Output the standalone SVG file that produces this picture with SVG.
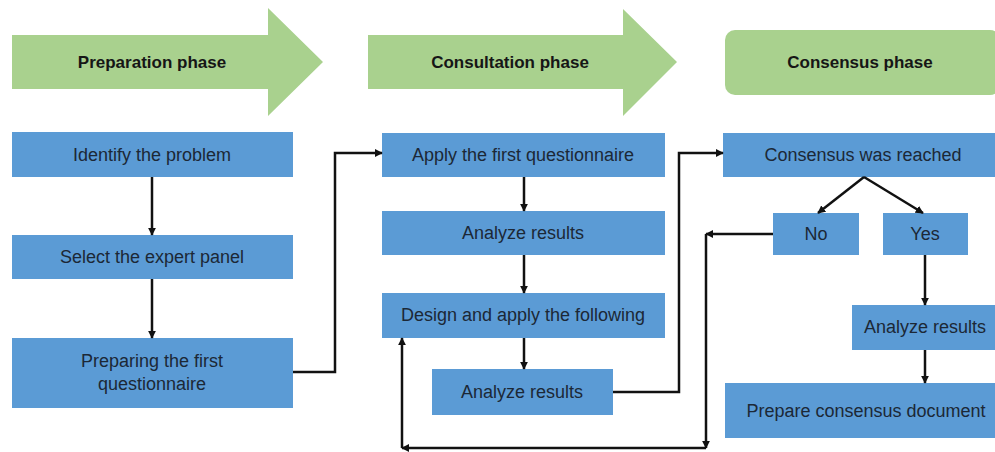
<svg xmlns="http://www.w3.org/2000/svg" width="995" height="452" viewBox="0 0 995 452">
<defs>
<style>
.box{fill:#5b9bd5;}
.phase{fill:#a9d18e;}
.t{font-family:"Liberation Sans","Open Sans",Arial,sans-serif;font-size:18px;fill:#1c2836;text-anchor:middle;dominant-baseline:central;}
.pt{font-family:"Liberation Sans","Open Sans",Arial,sans-serif;font-size:17px;font-weight:bold;fill:#161616;text-anchor:middle;dominant-baseline:central;}
.c{fill:none;stroke:#111;stroke-width:2.5;}
</style>
<marker id="ah" viewBox="0 0 10 10" refX="9" refY="5" markerWidth="3.2" markerHeight="3.2" orient="auto" markerUnits="strokeWidth">
<path d="M0,0 L10,5 L0,10 z" fill="#111"/>
</marker>
</defs>
<rect width="995" height="452" fill="#ffffff"/>

<g id="phase-preparation">
<polygon class="phase" points="12,35 268,35 268,8 323,62 268,116 268,89 12,89"/>
<text class="pt" x="152" y="62">Preparation phase</text>
</g>
<g id="phase-consultation">
<polygon class="phase" points="368,35 623,35 623,9 677,62 623,116 623,89 368,89"/>
<text class="pt" x="510" y="62">Consultation phase</text>
</g>
<g id="phase-consensus">
<rect class="phase" x="725" y="30" width="275" height="65" rx="10"/>
<text class="pt" x="860" y="62">Consensus phase</text>
</g>

<g id="n-identify"><rect class="box" x="12" y="132" width="281" height="45"/><text class="t" x="152" y="155">Identify the problem</text></g>
<g id="n-select"><rect class="box" x="12" y="235" width="281" height="44"/><text class="t" x="152" y="257">Select the expert panel</text></g>
<g id="n-preparing"><rect class="box" x="12" y="338" width="281" height="70"/><text class="t" x="152" y="361">Preparing the first</text><text class="t" x="152" y="384">questionnaire</text></g>

<g id="n-apply"><rect class="box" x="382" y="133" width="283" height="44"/><text class="t" x="523" y="155">Apply the first questionnaire</text></g>
<g id="n-analyze1"><rect class="box" x="382" y="211" width="283" height="44"/><text class="t" x="523" y="233">Analyze results</text></g>
<g id="n-design"><rect class="box" x="382" y="293" width="283" height="45"/><text class="t" x="523" y="315">Design and apply the following</text></g>
<g id="n-analyze2"><rect class="box" x="432" y="369" width="181" height="46"/><text class="t" x="522" y="392">Analyze results</text></g>

<g id="n-reached"><rect class="box" x="723" y="133" width="275" height="44"/><text class="t" x="863" y="155">Consensus was reached</text></g>
<g id="n-no"><rect class="box" x="773" y="213" width="86" height="42"/><text class="t" x="816" y="234">No</text></g>
<g id="n-yes"><rect class="box" x="883" y="213" width="85" height="42"/><text class="t" x="925" y="234">Yes</text></g>
<g id="n-analyze3"><rect class="box" x="852" y="305" width="146" height="45"/><text class="t" x="925" y="327">Analyze results</text></g>
<g id="n-prepare"><rect class="box" x="725" y="383" width="273" height="55"/><text class="t" x="866" y="411">Prepare consensus document</text></g>

<g id="connectors">
<path class="c" d="M152,177 V235" marker-end="url(#ah)"/>
<path class="c" d="M152,279 V338" marker-end="url(#ah)"/>
<path class="c" d="M293,372 H335 V153 H382" marker-end="url(#ah)"/>
<path class="c" d="M524,177 V211" marker-end="url(#ah)"/>
<path class="c" d="M524,255 V293" marker-end="url(#ah)"/>
<path class="c" d="M524,338 V369" marker-end="url(#ah)"/>
<path class="c" d="M613,392 H679 V153 H723" marker-end="url(#ah)"/>
<path class="c" d="M864,177 L818,213" marker-end="url(#ah)"/>
<path class="c" d="M864,177 L923,213" marker-end="url(#ah)"/>
<path class="c" d="M925,255 V305" marker-end="url(#ah)"/>
<path class="c" d="M925,350 V383" marker-end="url(#ah)"/>
<path class="c" d="M773,234 H706" marker-end="url(#ah)"/>
<path class="c" d="M706,234 V448" marker-end="url(#ah)"/>
<path class="c" d="M706,448 H402" marker-end="url(#ah)"/>
<path class="c" d="M402,448 V338" marker-end="url(#ah)"/>
</g>
</svg>
